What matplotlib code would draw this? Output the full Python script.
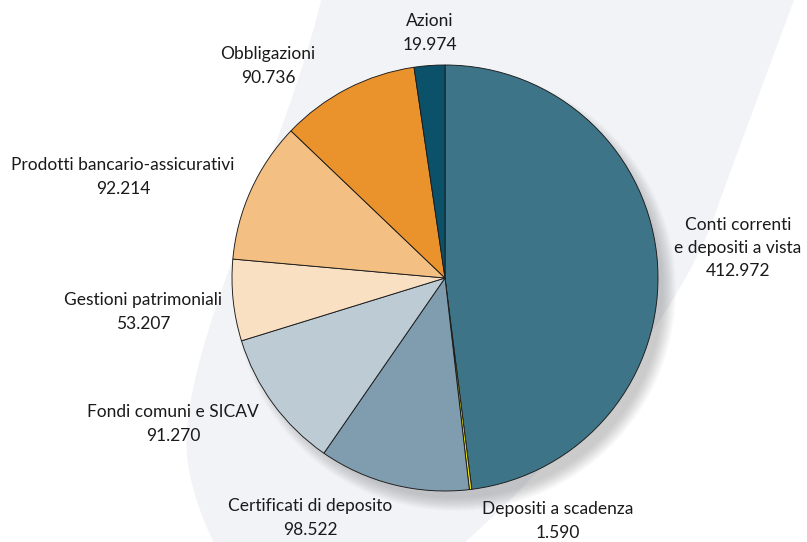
import matplotlib.pyplot as plt
from matplotlib.path import Path
from matplotlib.patches import PathPatch, Circle

# data (milioni di euro)
categorie = ['Conti correnti\ne depositi a vista', 'Depositi a scadenza',
             'Certificati di deposito', 'Fondi comuni e SICAV',
             'Gestioni patrimoniali', 'Prodotti bancario-assicurativi',
             'Obbligazioni', 'Azioni']
valori = [412.972, 1.590, 98.522, 91.270, 53.207, 92.214, 90.736, 19.974]
etichette_valori = ['412.972', '1.590', '98.522', '91.270', '53.207',
                    '92.214', '90.736', '19.974']
colori = ['#3d7487', '#f5e200', '#809daf', '#bdcbd4', '#fae0c3',
          '#f3bf82', '#ea922c', '#0b5169']

W, H = 807, 542
fig = plt.figure(figsize=(W / 100, H / 100), dpi=100)
ax = fig.add_axes([0, 0, 1, 1])

def px(x, y):
    # pixel coords (origin top-left) -> data coords
    return (x, H - y)

# light grey swoosh in background
verts = [px(322, -3),
         px(285, 150), px(195, 320), px(187, 430),
         px(183, 470), px(200, 515), px(215, 545),
         px(462, 545),
         px(580, 440), px(690, 300), px(720, 200),
         px(795, -3),
         px(322, -3)]
codes = [Path.MOVETO,
         Path.CURVE4, Path.CURVE4, Path.CURVE4,
         Path.CURVE4, Path.CURVE4, Path.CURVE4,
         Path.LINETO,
         Path.CURVE4, Path.CURVE4, Path.CURVE4,
         Path.LINETO,
         Path.CLOSEPOLY]
ax.add_patch(PathPatch(Path(verts, codes), facecolor='#f2f3f7',
                       edgecolor='none', zorder=0))

cx, cy = px(445, 278)
R = 213

# soft shadow bottom-right
for i in range(14):
    ax.add_patch(Circle((cx + 10, cy - 12), R + 8 - i, facecolor='#5a5a5a',
                        edgecolor='none', alpha=0.025, zorder=1))

ax.pie(valori, colors=colori, startangle=90, counterclock=False,
       center=(cx, cy), radius=R, frame=True,
       wedgeprops=dict(edgecolor='#1a1a1a', linewidth=0.65, zorder=2))
ax.set_xlim(0, W)
ax.set_ylim(0, H)
ax.set_aspect('equal')
ax.axis('off')

# label positions (pixel centres of the text blocks)
pos_etichette = [(738, 248), (558, 521), (310, 518), (173, 424),
                 (143, 312), (123, 177), (268, 66), (430, 33)]

for nome, val, (x, y) in zip(categorie, etichette_valori, pos_etichette):
    ax.text(*px(x, y), nome + '\n' + val, ha='center', va='center',
            fontsize=12.5, family='Lato', color='#1a1a1a',
            linespacing=1.55, zorder=3)

fig.savefig('out.png', dpi=100)
